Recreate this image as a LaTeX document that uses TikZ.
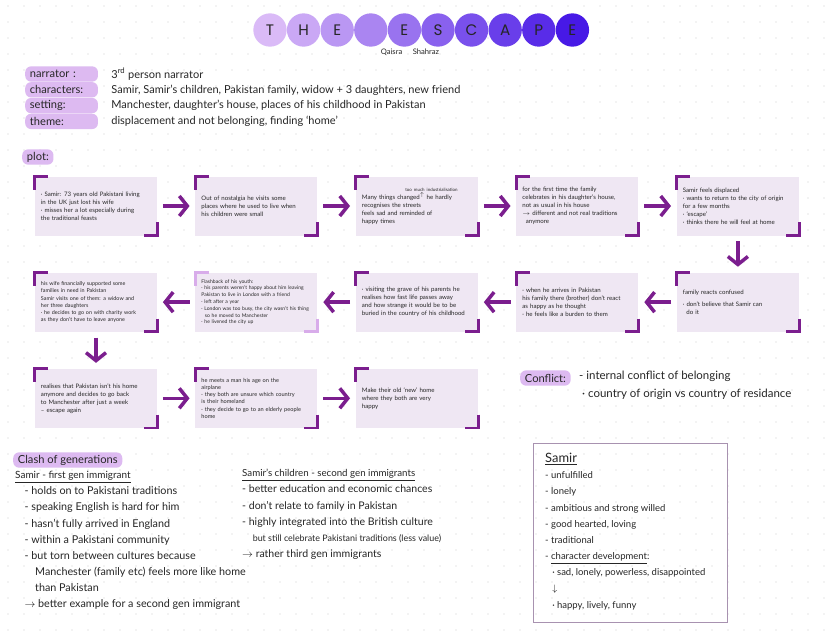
\documentclass[tikz,border=0pt]{standalone}
\usepackage{fontspec}
\setmainfont{Lato}
\newfontfamily\titlefont{Poppins}
\usepackage{xcolor}
\usetikzlibrary{arrows.meta,calc,positioning}
\definecolor{plumDark}{HTML}{7B1E8E}
\definecolor{plumLight}{HTML}{D8ACEA}
\definecolor{pillLilac}{HTML}{DDBAF1}
\definecolor{boxLilac}{HTML}{EFE7F3}
\definecolor{dotGrey}{HTML}{CFCFCF}
\definecolor{titleLight}{HTML}{DABAF7}
\definecolor{titleDeep}{HTML}{4719E6}
\definecolor{frameMauve}{HTML}{A892B0}
\definecolor{inkGrey}{HTML}{262626}

\begin{document}
\begin{tikzpicture}[x=0.03cm,y=-0.03cm,>=Latex,
    node distance=1.1cm and 1.14cm,
    plotbox/.style={fill=boxLilac,minimum height=1.77cm,text width=3.3cm,
      inner xsep=0.18cm,align=left,text=inkGrey,
      font=\fontsize{5.2}{6.8}\selectfont},
    pill/.style={fill=pillLilac,rounded corners=5pt,anchor=west,inner xsep=4pt,
      inner ysep=1pt,minimum height=0.46cm,align=left,text=inkGrey,
      font=\fontsize{9.5}{10}\selectfont},
    hdr/.style={pill,text width=1.9cm},
    note/.style={anchor=west,inner sep=0pt,text=inkGrey,
      font=\fontsize{9.4}{10}\selectfont},
    listnote/.style={anchor=north west,inner sep=0pt,align=left,text=inkGrey,
      font=\fontsize{9.2}{13.8}\selectfont},
    flow/.style={draw=plumDark,line width=3pt,
      -{Straight Barb[length=2.4mm,width=6mm]},shorten <=0.17cm,shorten >=0.17cm},
    bracket/.style={line width=2.4pt}]
  \fill[white] (0,0) rectangle (828,641);
  \useasboundingbox (0,0) rectangle (828,641);
  \foreach \gx in {8,24,...,828}
    \foreach \gy in {6,22,...,641}
      \fill[dotGrey] (\gx,\gy) circle (0.6pt);

  \foreach \i/\l in {1/T,2/H,3/E,4/,5/E,6/S,7/C,8/A,9/P,10/E} {
    \pgfmathtruncatemacro\mix{(\i-1)*100/9}
    \fill[titleDeep!\mix!titleLight] (236.4+33.6*\i,30) circle (0.5cm);
    \node[font=\titlefont\fontsize{13}{13}\selectfont,text=inkGrey] (t\i) at (236.4+33.6*\i,30) {\l};
  }
  \node[font=\fontsize{6.5}{7}\selectfont,text=inkGrey] (auth) at (410,52) {Qaisra\hspace{9pt}Shahraz};

  \node[hdr] (narr) at (25,74) {narrator :};
  \node[hdr,below=0pt of narr] (chars) {characters:};
  \node[hdr,below=0pt of chars] (sett) {setting:};
  \node[hdr,below=0pt of sett] (theme) {theme:};
  \node[note,right=0.39cm of narr] (narrv) {3\textsuperscript{rd} person narrator};
  \node[note,right=0.39cm of chars] (charsv) {Samir, Samir's children, Pakistan family, widow + 3 daughters, new friend};
  \node[note,right=0.39cm of sett] (settv) {Manchester, daughter's house, places of his\ childhood in Pakistan};
  \node[note,right=0.39cm of theme] (themev) {displacement and not belonging, finding `home'};
  \node[pill] (plot) at (22,157) {plot:};

  \node[plotbox] (b1) at (96,206) {· Samir: 73 years old Pakistani living\\ in the UK just lost his wife\\ · misses her a lot especially during\\ the traditional feasts};
  \node[plotbox,right=of b1] (b2) {Out of nostalgia he visits some\\ places where he used to live when\\ his children were small\\[8pt]};
  \node[plotbox,right=of b2] (b3) {\hspace*{1.3cm}{\fontsize{3.8}{4}\selectfont too much industrialisation}\\ Many things changed$^{\uparrow}$ he hardly\\ recognises the streets\\ feels sad and reminded of\\ happy times};
  \node[plotbox,right=of b3] (b4) {for the first time the family\\ celebrates in his daughter's house,\\ not as usual in his house\\ $\rightarrow$ different and not real traditions\\ \hspace*{3pt}anymore};
  \node[plotbox,right=of b4] (b5) {Samir feels displaced\\ · wants to return to the city of origin\\ for a few months\\ · `escape'\\ · thinks there he will feel at home};
  \node[plotbox,below=of b5] (b6) {family reacts confused\\[3pt] · don't believe that Samir can\\ \hspace*{3pt}do it};
  \node[plotbox,left=of b6] (b7) {· when he arrives in Pakistan\\ his family there (brother) don't react\\ as happy as he thought\\ · he feels like a burden to them};
  \node[plotbox,left=of b7] (b8) {· visiting the grave of his parents he\\ realises how fast life passes away\\ and how strange it would be to be\\ buried in the country of his childhood};
  \node[plotbox,left=of b8,font=\fontsize{4.3}{5.8}\selectfont] (b9) {Flashback of his youth:\\ · his parents weren't happy about him leaving\\ Pakistan to live in London with a friend\\ · left after a year\\ · London was too busy, the city wasn't his thing\\ \hspace*{3pt}so he moved to Manchester\\ · he livened the city up};
  \node[plotbox,left=of b9,font=\fontsize{4.6}{6.2}\selectfont] (b10) {his wife financially supported some\\ families in need in Pakistan\\ Samir visits one of them: a widow and\\ her three daughters\\ · he decides to go on with charity work\\ as they don't have to leave anyone};
  \node[plotbox,below=of b10] (b11) {realises that Pakistan isn't his home\\ anymore and decides to go back\\ to Manchester after just a week\\ -- escape again};
  \node[plotbox,right=of b11,font=\fontsize{4.8}{6.2}\selectfont] (b12) {he meets a man his age on the\\ airplane\\ · they both are unsure which country\\ is their homeland\\ · they decide to go to an elderly people\\ home};
  \node[plotbox,right=of b12] (b13) {Make their old `new' home\\ where they both are very\\ happy\\[6pt]};

  \foreach \b/\c in {b1/plumDark,b2/plumDark,b3/plumDark,b4/plumDark,b5/plumDark,
      b6/plumDark,b7/plumDark,b8/plumDark,b9/plumLight,b10/plumDark,
      b11/plumDark,b12/plumDark,b13/plumDark} {
    \draw[bracket,draw=\c] ([yshift=-0.4cm]\b.north west) |- ([xshift=0.4cm]\b.north west);
    \draw[bracket,draw=\c] ([yshift=0.4cm]\b.south east) |- ([xshift=-0.4cm]\b.south east);
  }
  \draw[flow] (b1) -- (b2);
  \draw[flow] (b2) -- (b3);
  \draw[flow] (b3) -- (b4);
  \draw[flow] (b4) -- (b5);
  \draw[flow] (b5) -- (b6);
  \draw[flow] (b6) -- (b7);
  \draw[flow] (b7) -- (b8);
  \draw[flow] (b8) -- (b9);
  \draw[flow] (b9) -- (b10);
  \draw[flow] (b10) -- (b11);
  \draw[flow] (b11) -- (b12);
  \draw[flow] (b12) -- (b13);

  \node[pill,font=\fontsize{9.5}{11}\selectfont] (confl) at (520,378) {Conflict:};
  \node[note,font=\fontsize{9.8}{11}\selectfont] (confa) at (579,376) {- internal conflict of belonging};
  \node[note,font=\fontsize{9.8}{11}\selectfont] (confb) at (582,394) {· country of origin vs country of residance};

  \node[pill,font=\fontsize{9.5}{11}\selectfont] (clash) at (13,460) {Clash of generations};
  \node[listnote] (firstgen) at (15,471) {{\fontsize{8.5}{9}\selectfont\underline{Samir - first gen immigrant}}\\
    \hspace*{8pt}- holds on to Pakistani traditions\\
    \hspace*{8pt}- speaking English is hard for him\\
    \hspace*{8pt}- hasn't fully arrived in England\\
    \hspace*{8pt}- within a Pakistani community\\
    \hspace*{8pt}- but torn between cultures because\\
    \hspace*{17pt}Manchester (family etc) feels more like home\\
    \hspace*{17pt}than Pakistan\\
    \hspace*{8pt}$\rightarrow$ better example for a second gen immigrant};
  \node[listnote,font=\fontsize{9}{13.8}\selectfont] (secondgen) at (242,469) {{\fontsize{8.3}{9}\selectfont\underline{Samir's children - second gen immigrants}}\\
    - better education and economic chances\\
    - don't relate to family in Pakistan\\
    - highly integrated into the British culture\\
    \hspace*{9pt}{\fontsize{7.6}{8}\selectfont but still celebrate Pakistani traditions (less value)}\\
    $\rightarrow$ rather third gen immigrants};

  \node[draw=frameMauve,line width=0.8pt,minimum width=5.82cm,minimum height=5.37cm,
    anchor=north west,inner sep=0pt] (samirbox) at (533,443) {};
  \node[listnote,font=\fontsize{8.1}{13.8}\selectfont] (samirlist) at (545,453) {{\fontsize{11}{12}\selectfont\underline{Samir}}\\
    - unfulfilled\\
    - lonely\\
    - ambitious and strong willed\\
    - good hearted, loving\\
    - traditional\\
    - \underline{character development}:\\
    \hspace*{6pt}· sad, lonely, powerless, disappointed\\
    \hspace*{6pt}$\downarrow$\\
    \hspace*{6pt}· happy, lively, funny};
\end{tikzpicture}
\end{document}
